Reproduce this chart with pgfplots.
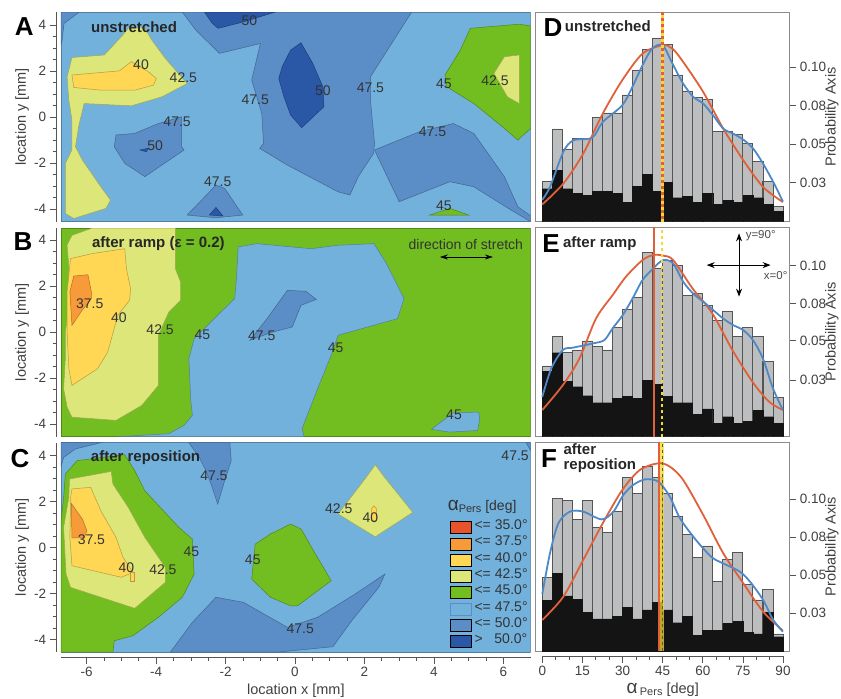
\documentclass[border=0pt]{standalone}
\usepackage{fontspec}
\setmainfont{Liberation Sans}
\usepackage{pgfplots}
\usepackage{pgfplotstable}
\pgfplotsset{compat=1.18}
\usetikzlibrary{arrows.meta}

\definecolor{cHot}{HTML}{E8532B}
\definecolor{cOra}{HTML}{F79A3A}
\definecolor{cYel}{HTML}{FFD755}
\definecolor{cLim}{HTML}{DDE678}
\definecolor{cGre}{HTML}{72BD20}
\definecolor{cSky}{HTML}{72B1DC}
\definecolor{cBlu}{HTML}{5B8DC7}
\definecolor{cDar}{HTML}{2A57A6}
\definecolor{cBar}{HTML}{BDBEC0}
\definecolor{cInk}{HTML}{141414}
\definecolor{cCurveB}{HTML}{4F88C6}
\definecolor{cCurveO}{HTML}{E0603A}
\definecolor{cGold}{HTML}{F6D92E}
\definecolor{cTick}{HTML}{555555}
\definecolor{cFrame}{HTML}{8C8C8C}

\newcommand{\fs}[1]{\fontsize{#1}{#1}\selectfont}

% histograms: bin centre, all cells (grey), subset (black)
\pgfplotstableread{
deg gray black
1.875 .0261 .0213
5.625 .0599 .0332
9.375 .0465 .0213
13.125 .0539 .0185
16.875 .0539 .0170
20.625 .0672 .0198
24.375 .0703 .0198
28.125 .0703 .0185
31.875 .0819 .0127
35.625 .0978 .0228
39.375 .1112 .0304
43.125 .1187 .0198
46.875 .1144 .0256
50.625 .0948 .0155
54.375 .0845 .0166
58.125 .0802 .0127
61.875 .0789 .0185
65.625 .0584 .0112
69.375 .0584 .0138
73.125 .0565 .0127
76.875 .0504 .0170
80.625 .0392 .0155
84.375 .0261 .0112
88.125 .0099 .0069
}\histD
\pgfplotstableread{
deg gray black
1.875 .0464 .0431
5.625 .0656 .0551
9.375 .0551 .0361
13.125 .0569 .0328
16.875 .0628 .0269
20.625 .0595 .0223
24.375 .0569 .0223
28.125 .0715 .0252
31.875 .0838 .0267
35.625 .0912 .0252
39.375 .1209 .0372
43.125 .1104 .0343
46.875 .1159 .0267
50.625 .1122 .0223
54.375 .0925 .0223
58.125 .0940 .0147
61.875 .0864 .0182
65.625 .0765 .0087
69.375 .0820 .0131
73.125 .0656 .0087
76.875 .0715 .0103
80.625 .0656 .0175
84.375 .0496 .0131
88.125 .0256 .0087
}\histE
\pgfplotstableread{
deg gray black
1.875 .0485 .0331
5.625 .1004 .0511
9.375 .0993 .0362
13.125 .0868 .0342
16.875 .0993 .0254
20.625 .0811 .0211
24.375 .0781 .0211
28.125 .0917 .0226
31.875 .1140 .0285
35.625 .1037 .0211
39.375 .1213 .0270
43.125 .1140 .0318
46.875 .1037 .0270
50.625 .0884 .0186
54.375 .0768 .0226
58.125 .0616 .0105
61.875 .0691 .0134
65.625 .0456 .0138
69.375 .0603 .0182
73.125 .0647 .0197
76.875 .0439 .0123
80.625 .0336 .0112
84.375 .0406 .0254
88.125 .0112 .0094
}\histF

\pgfplotsset{
  /pgf/number format/assume math mode=true,
  thinticks/.style={tick align=outside, tick style={color=cTick, line width=.6pt},
    major tick length=7pt, minor tick length=4pt,
    axis line style={color=cTick, line width=.6pt},
    tick label style={font=\fs{13.5}, text=black!75}},
  mapax/.style={scale only axis, width=474pt, xmin=-6.87, xmax=6.79, ymin=-4.55,
    axis x line=none, axis y line*=left, thinticks,
    ytick={-4,-2,0,2,4}, minor y tick num=3,
    ylabel={location y [mm]},
    every axis y label/.style={at={(axis description cs:-0.073,0.5)}, rotate=90, anchor=center, font=\fs{14.5}, text=black!75},
    anchor=south west},
  xthin/.style={scale only axis, height=1pt, ymin=0, ymax=1, axis y line=none, axis x line*=bottom,
    thinticks, anchor=south west,
    every axis x label/.style={at={(axis description cs:0.5,0)}, yshift=-33.5pt, anchor=center, font=\fs{14.5}, text=black!75}},
  histax/.style={scale only axis, width=253.6pt, xmin=-2.47, xmax=92.4, ymin=0,
    xtick=\empty, ytick pos=right, yticklabel pos=right, thinticks,
    axis line style={color=cFrame, line width=1pt},
    yticklabels={0.03,0.05,0.08,0.10},
    ylabel={Probability Axis},
    every axis y label/.style={at={(axis description cs:1.168,0.5)}, rotate=90, anchor=center, font=\fs{14.5}, text=black!75},
    anchor=south west},
  gbar/.style={ybar, bar width=10.03pt, bar shift=0pt, fill=cBar, draw=cTick, line width=.7pt, forget plot},
  kbar/.style={ybar, bar width=10.03pt, bar shift=0pt, fill=cInk, draw=cInk, line width=.4pt, forget plot},
  bluecurve/.style={color=cCurveB, line width=1.8pt, smooth, tension=.5, no markers, forget plot},
  orangecurve/.style={color=cCurveO, line width=1.8pt, smooth, tension=.5, no markers, forget plot},
}

\newcommand{\reg}[2]{\addplot[forget plot, fill=#1, draw=#1!72!black, line width=.5pt] coordinates {#2} --cycle;}
\newcommand{\lab}[2]{\node[font=\fs{14}, text=black!80, inner sep=0pt] at (#1) {#2};}
\newcommand{\ttl}[2]{\node[font=\bfseries\fs{15}, text=black!85, inner sep=0pt] at (#1) {#2};}
\newcommand{\letter}[2]{\node[font=\bfseries\fs{26}, text=black, inner sep=0pt] at (#1) {#2};}

\begin{document}
\begin{tikzpicture}
\path[use as bounding box] (0pt,0pt) rectangle (841pt,-699pt);

% ---- A
\begin{axis}[mapax, height=209.7pt, ymax=4.57, at={(56.7pt,-221.7pt)}]
\reg{cSky}{(-6.74,-4.55)(6.79,-4.55)(6.79,4.57)(-6.74,4.57)}
\reg{cBlu}{(-6.74,4.57)(-6.22,4.57)(-6.66,4.07)(-6.72,3.28)(-6.74,3.2)}
\reg{cBlu}{(-3.25,4.57)(-2.86,3.78)(-2.18,2.77)(-1.00,3.20)(-1.25,1.61)(-0.96,0.16)(-0.91,-1.14)(-1.02,-1.36)(-0.22,-2.09)(1.24,-3.25)(1.58,-3.39)(1.82,-2.59)(2.26,-1.58)(2.29,-1.14)(2.17,0.74)(2.17,1.75)(2.60,2.77)(3.36,4.57)}
\reg{cDar}{(-2.61,4.57)(-2.40,4.1)(-2.22,3.86)(-1.49,4.14)(-0.57,4.57)}
\reg{cDar}{(0.17,3.23)(-0.13,2.91)(-0.37,2.19)(-0.47,1.68)(-0.32,0.88)(-0.13,0.09)(0.19,-0.46)(0.83,0.45)(0.80,1.32)(0.51,2.33)}
\reg{cGre}{(5.05,3.86)(6.46,4.04)(6.79,3.96)(6.79,-0.49)(6.42,-1.00)(6.03,-0.49)(5.15,0.59)(4.37,1.32)(4.32,1.83)(4.76,2.91)}
\reg{cLim}{(6.03,2.62)(6.46,2.70)(6.46,0.59)(6.12,0.88)(5.73,1.90)}
\reg{cLim}{(-6.43,2.59)(-5.50,2.70)(-5.01,3.49)(-4.77,3.93)(-4.33,3.86)(-4.13,3.35)(-3.74,2.55)(-3.11,1.46)(-3.84,0.88)(-4.72,0.49)(-6.08,0.59)(-6.23,-0.35)(-6.33,-1.29)(-6.13,-1.87)(-5.60,-3.03)(-5.32,-3.61)(-5.45,-3.97)(-6.38,-4.41)(-6.62,-4.19)(-6.62,-2.01)(-6.43,-1.43)(-6.43,-0.13)(-6.52,0.74)(-6.57,1.75)}
\reg{cYel}{(-6.43,1.83)(-5.06,2.01)(-4.72,2.41)(-4.23,1.97)(-4.00,1.68)(-4.08,1.39)(-4.62,1.17)(-5.60,1.17)(-6.38,1.29)}
\reg{cBlu}{(-5.16,-0.78)(-4.62,-0.71)(-3.94,-0.28)(-3.27,0.01)(-3.27,-1.29)(-3.20,-1.43)(-4.33,-2.59)(-4.91,-2.01)(-5.21,-1.29)}
\reg{cDar}{(-4.47,-1.43)(-4.23,-1.36)(-4.29,-1.51)}
\reg{cBlu}{(-3.11,-4.26)(-2.28,-2.96)(-2.03,-3.10)(-1.51,-4.26)(-2.28,-4.38)}
\reg{cDar}{(-2.47,-4.26)(-2.28,-3.93)(-2.08,-4.30)}
\reg{cBlu}{(2.29,-1.43)(3.58,-0.64)(4.56,-0.28)(5.15,-0.71)(6.03,-2.59)(6.42,-3.90)(6.79,-4.30)(6.79,-4.55)(6.22,-4.04)(5.15,-3.03)(4.46,-2.81)(3.00,-3.68)}
\reg{cGre}{(3.88,-4.26)(4.46,-3.97)(5.0,-4.26)}
\ttl{-4.64,3.90}{unstretched}
\lab{-4.44,2.26}{40}\lab{-3.22,1.71}{42.5}\lab{-1.15,0.77}{47.5}\lab{0.80,1.14}{50}
\lab{2.17,1.28}{47.5}\lab{4.29,1.46}{45}\lab{5.76,1.57}{42.5}\lab{-3.40,-0.22}{47.5}
\lab{-4.03,-1.25}{50}\lab{3.96,-0.64}{47.5}\lab{-2.23,-2.81}{47.5}\lab{4.29,-3.87}{45}\lab{-1.32,4.19}{50}
\end{axis}

% ---- B
\begin{axis}[mapax, height=208.7pt, ymax=4.52, at={(56.7pt,-436.7pt)}]
\reg{cGre}{(-6.74,-4.55)(6.79,-4.55)(6.79,4.52)(-6.74,4.52)}
\reg{cLim}{(-6.57,3.77)(-6.43,4.20)(-5.84,4.52)(-3.45,4.52)(-3.45,2.75)(-3.30,2.17)(-3.30,1.38)(-3.64,0.87)(-3.94,-0.14)(-3.94,-2.32)(-4.42,-3.19)(-5.16,-3.84)(-6.43,-3.70)(-6.57,-3.26)(-6.67,-2.46)(-6.62,-1.16)(-6.62,0)(-6.52,1.01)(-6.52,2.90)}
\reg{cYel}{(-6.47,3.19)(-5.84,3.41)(-4.91,3.62)(-4.86,2.75)(-4.74,1.88)(-4.77,1.38)(-5.11,0.72)(-5.40,-0.87)(-5.69,-1.59)(-6.43,-2.32)(-6.52,-1.59)(-6.57,0)(-6.57,1.74)}
\reg{cOra}{(-6.38,2.43)(-5.97,2.49)(-5.87,1.74)(-5.87,1.45)(-6.14,0.94)(-6.43,0.29)(-6.49,1.74)}
\reg{cSky}{(-1.64,3.70)(-1.10,3.84)(0.46,3.62)(1.24,3.77)(2.27,3.84)(2.61,3.04)(3.14,1.45)(2.95,0.58)(1.24,-0.14)(1.04,-1.01)(0.65,-2.46)(0.20,-4.20)(0.26,-4.55)(-5.11,-4.55)(-3.64,-4.42)(-3.20,-4.06)(-2.96,-3.62)(-3.01,-2.90)(-3.06,-1.16)(-2.91,-0.29)(-2.18,0.80)(-1.74,1.45)(-1.69,2.32)}
\reg{cBlu}{(-0.22,1.81)(0.31,1.77)(0.61,1.42)(0.17,1.16)(-0.08,0.22)(-0.71,-0.03)(-1.30,-0.36)(-0.81,0.58)}
\reg{cSky}{(3.93,-4.23)(4.56,-3.51)(5.29,-3.48)(5.32,-3.77)(5.26,-4.28)(4.46,-4.35)}
\ttl{-3.94,3.84}{after ramp (ε = 0.2)}
\node[font=\fs{14}, text=black!80, inner sep=0pt] at (4.92,3.80) {direction of stretch};
\draw[{Stealth[length=8pt,width=5pt]}-{Stealth[length=8pt,width=5pt]}, line width=.8pt, black] (4.17,3.26) -- (5.70,3.26);
\lab{-5.92,1.23}{37.5}\lab{-5.08,0.62}{40}\lab{-3.89,0.10}{42.5}\lab{-2.67,-0.10}{45}
\lab{-0.96,-0.17}{47.5}\lab{1.17,-0.68}{45}\lab{4.58,-3.58}{45}
\end{axis}

% ---- C
\begin{axis}[mapax, height=209.3pt, ymax=4.55, at={(56.7pt,-652pt)},
  legend image code/.code={\draw[#1] (0pt,-6pt) rectangle (21pt,6pt);},
  legend cell align=left,
  legend style={draw=none, fill=none, at={(axis description cs:0.829,0.634)}, anchor=north west,
    inner sep=0pt, outer sep=0pt, row sep=0pt, column sep=0pt,
    font=\fs{14},
    nodes={inner ysep=0pt, inner xsep=3.5pt, text height=10.3pt, text depth=6pt, text=black!80}}]
\addlegendimage{fill=cHot, draw=none}\addlegendentry{<= 35.0°}
\addlegendimage{fill=cOra, draw=none}\addlegendentry{<= 37.5°}
\addlegendimage{fill=cYel, draw=none}\addlegendentry{<= 40.0°}
\addlegendimage{fill=cLim, draw=none}\addlegendentry{<= 42.5°}
\addlegendimage{fill=cGre, draw=none}\addlegendentry{<= 45.0°}
\addlegendimage{fill=cSky, draw=cBlu, line width=.3pt}\addlegendentry{<= 47.5°}
\addlegendimage{fill=cBlu, draw=none}\addlegendentry{<= 50.0°}
\addlegendimage{fill=cDar, draw=none}\addlegendentry{>\ \ \ 50.0°}
\reg{cSky}{(-6.74,-4.55)(6.79,-4.55)(6.79,4.55)(-6.74,4.55)}
\reg{cBlu}{(-6.74,4.55)(-5.60,4.55)(-6.33,4.28)(-6.67,3.91)(-6.74,3.55)}
\reg{cBlu}{(-3.06,4.55)(-1.88,4.55)(-1.84,3.77)(-2.03,2.90)(-2.23,1.88)(-2.42,2.75)(-2.57,3.33)(-2.76,3.91)}
\reg{cBlu}{(6.66,4.55)(6.79,4.55)(6.79,4.2)}
\reg{cBlu}{(-3.59,-4.55)(-2.96,-3.26)(-2.28,-2.17)(-1.49,-2.39)(-0.22,-3.48)(0.65,-3.04)(1.73,-2.03)(2.59,-1.16)(2.41,-1.74)(1.63,-3.19)(1.09,-4.32)(-0.47,-4.55)}
\reg{cGre}{(-6.62,3.19)(-6.28,3.77)(-4.91,4.03)(-4.62,3.33)(-4.33,2.46)(-3.35,0.87)(-2.96,0.36)(-2.91,-1.16)(-3.25,-2.17)(-3.94,-3.04)(-4.67,-3.84)(-5.21,-4.06)(-5.25,-4.55)(-6.74,-4.55)(-6.74,1.16)(-6.67,2.17)}
\reg{cLim}{(-6.50,2.97)(-5.30,3.30)(-5.25,2.75)(-4.81,1.74)(-4.33,0.43)(-3.74,-0.87)(-3.74,-1.52)(-4.62,-2.65)(-6.47,-1.74)(-6.60,-1.16)(-6.67,0.87)(-6.52,2.17)}
\reg{cYel}{(-6.43,2.54)(-5.89,2.61)(-5.60,1.59)(-5.16,0.43)(-4.96,-0.43)(-4.67,-1.09)(-5.01,-1.30)(-6.43,-0.80)(-6.49,0.43)(-6.47,2.17)}
\reg{cYel}{(-4.74,-1.09)(-4.64,-1.09)(-4.64,-1.48)(-4.74,-1.48)}
\reg{cOra}{(-6.45,1.91)(-6.13,1.23)(-6.00,0.72)(-6.08,0.41)(-6.43,0.41)}
\reg{cGre}{(-0.13,1.01)(0.17,0.80)(0.56,-0.22)(1.04,-1.45)(0.07,-2.54)(-0.13,-2.54)(-0.71,-2.17)(-1.25,-1.38)(-1.15,0.14)(-0.71,0.58)}
\reg{cLim}{(2.31,3.59)(2.54,3.12)(3.39,1.52)(2.31,0.46)(1.24,1.45)(1.83,2.61)(2.12,3.19)}
\reg{cYel}{(2.20,1.67)(2.27,1.81)(2.35,1.67)(2.35,1.16)(2.20,1.16)}
\ttl{-4.31,3.88}{after reposition}
\lab{-2.34,3.12}{47.5}\lab{6.34,3.99}{47.5}\lab{1.26,1.70}{42.5}\lab{2.17,1.30}{40}
\lab{-5.87,0.32}{37.5}\lab{-2.99,-0.17}{45}\lab{-1.22,-0.54}{45}\lab{-4.86,-0.87}{40}
\lab{-3.81,-0.99}{42.5}\lab{0.15,-3.55}{47.5}
\node[inner sep=0pt, text=black!80, font=\fs{14}] at (5.39,1.74) {{\fs{19}α}{\fs{11}\raisebox{-2pt}{Pers}} [deg]};
\end{axis}

\begin{axis}[xthin, width=469.7pt, at={(61pt,-657pt)}, xmin=-6.74, xmax=6.79,
  xtick={-6,-4,-2,0,2,4,6}, minor x tick num=3, xlabel={location x [mm]}]
\end{axis}

% ---- D
\begin{axis}[histax, height=209.4pt, ymax=.1353, at={(535.7pt,-221.7pt)}, ytick={.0254,.05,.075,.1}]
\addplot[gbar] table[x=deg, y=gray] {\histD};
\addplot[kbar] table[x=deg, y=black] {\histD};
\addplot[orangecurve] coordinates {(0,.0112)(7.85,.0246)(15.3,.0440)(22.6,.0698)(29.9,.0914)(37.5,.1086)(45,.1140)(48.7,.1118)(52.7,.1032)(60.2,.0838)(67.7,.0601)(75.2,.0397)(82.6,.0224)(90,.0127)};
\addplot[bluecurve] coordinates {(0,.0142)(2.87,.0224)(7.85,.0450)(11.6,.0526)(18.7,.0543)(22.6,.0644)(29.9,.0752)(33.7,.0871)(37.5,.1011)(41.1,.1118)(45,.1140)(48.7,.1021)(52.7,.0892)(56.5,.0806)(60.2,.0763)(63.9,.0687)(67.7,.0601)(71.4,.0569)(75.2,.0530)(78.9,.0472)(82.6,.0375)(86.4,.0256)(90,.0131)};
\addplot[cCurveO, line width=2.6pt, forget plot] coordinates {(45,0)(45,.1353)};
\addplot[cGold, line width=2.6pt, dashed, forget plot] coordinates {(45,0)(45,.1353)};
\ttl{24.5,.1265}{unstretched}
\end{axis}

% ---- E
\begin{axis}[histax, height=209.7pt, ymax=.1376, at={(535.7pt,-436.7pt)}, ytick={.0372,.0630,.0875,.1122}]
\addplot[gbar] table[x=deg, y=gray] {\histE};
\addplot[kbar] table[x=deg, y=black] {\histE};
\addplot[orangecurve] coordinates {(0,.0175)(7.71,.0339)(13.9,.0514)(20.1,.0776)(26.3,.0929)(31.3,.1050)(37.5,.1159)(41.5,.1192)(45.2,.1188)(48.96,.1159)(56.2,.0973)(63.6,.0809)(71.1,.0569)(78.6,.0361)(84.8,.0230)(90,.0175)};
\addplot[bluecurve] coordinates {(0,.0262)(3.36,.0448)(7.71,.0569)(11.4,.0584)(18.9,.0612)(23.2,.0634)(26.3,.0711)(30.1,.0798)(33.8,.0908)(37.5,.1028)(41.5,.1104)(45.2,.1159)(48.96,.1137)(52.7,.1017)(56.4,.0940)(60.2,.0886)(63.9,.0831)(67.6,.0776)(71.3,.0733)(75.1,.0700)(78.8,.0634)(82.5,.0514)(86.3,.0317)(90,.0175)};
\addplot[cCurveO, line width=2pt, forget plot] coordinates {(41.9,0)(41.9,.1376)};
\addplot[cGold, line width=2pt, dashed, forget plot] coordinates {(44.9,0)(44.9,.1376)};
\ttl{21.5,.1268}{after ramp}
\draw[{Stealth[length=8pt,width=6pt]}-{Stealth[length=8pt,width=6pt]}, line width=.8pt, black] (61.5,.1126) -- (85.4,.1126);
\draw[{Stealth[length=8pt,width=6pt]}-{Stealth[length=8pt,width=6pt]}, line width=.8pt, black] (73.6,.1334) -- (73.6,.0919);
\node[font=\fs{11.5}, text=black!70, inner sep=0pt] at (81.7,.1317) {y=90°};
\node[font=\fs{11.5}, text=black!70, inner sep=0pt] at (87.3,.1056) {x=0°};
\end{axis}

% ---- F
\begin{axis}[histax, height=209pt, ymax=.1375, at={(535.7pt,-651pt)}, ytick={.025,.05,.075,.1}]
\addplot[gbar] table[x=deg, y=gray] {\histF};
\addplot[kbar] table[x=deg, y=black] {\histF};
\addplot[cGold, line width=4pt, opacity=.75, forget plot] coordinates {(44.6,0)(44.6,.1375)};
\addplot[orangecurve] coordinates {(0,.0204)(7.85,.0357)(15.3,.0599)(22.6,.0840)(29.9,.1059)(36.5,.1191)(43.4,.1235)(47.7,.1213)(52.7,.1125)(60.2,.0895)(67.7,.0643)(75.2,.0445)(82.6,.0259)(90,.0134)};
\addplot[bluecurve] coordinates {(0,.0375)(2.87,.0643)(6,.0840)(10.3,.0917)(15.3,.0917)(22.2,.0866)(26.6,.0917)(30.3,.1026)(34,.1092)(38.4,.1129)(43.4,.1114)(47.7,.1015)(51.5,.0873)(56.5,.0752)(60.2,.0675)(63.9,.0610)(68.9,.0566)(73.9,.0522)(77.7,.0456)(82.6,.0336)(86.4,.0204)(90,.0127)};
\addplot[cCurveO, line width=2pt, forget plot] coordinates {(43.6,0)(43.6,.1375)};
\addplot[cTick, line width=1pt, dashed, forget plot] coordinates {(44.8,0)(44.8,.1375)};
\node[font=\bfseries\fs{15}, text=black!85, inner sep=0pt, anchor=west] at (7.9,.1325) {after};
\node[font=\bfseries\fs{15}, text=black!85, inner sep=0pt, anchor=west] at (7.9,.1222) {reposition};
\end{axis}

\begin{axis}[xthin, width=240.7pt, at={(542.3pt,-656pt)}, xmin=0, xmax=90,
  xtick={0,15,30,45,60,75,90}, minor x tick num=2, xlabel={{\fs{19}α}\,{\fs{11}\raisebox{-2pt}{Pers}} [deg]}]
\end{axis}

% ---- panel letters
\letter{24.3pt,-27pt}{A}
\letter{23pt,-241.7pt}{B}
\letter{20pt,-459pt}{C}
\letter{553pt,-28pt}{D}
\letter{551pt,-244pt}{E}
\letter{549pt,-459pt}{F}
\end{tikzpicture}
\end{document}
